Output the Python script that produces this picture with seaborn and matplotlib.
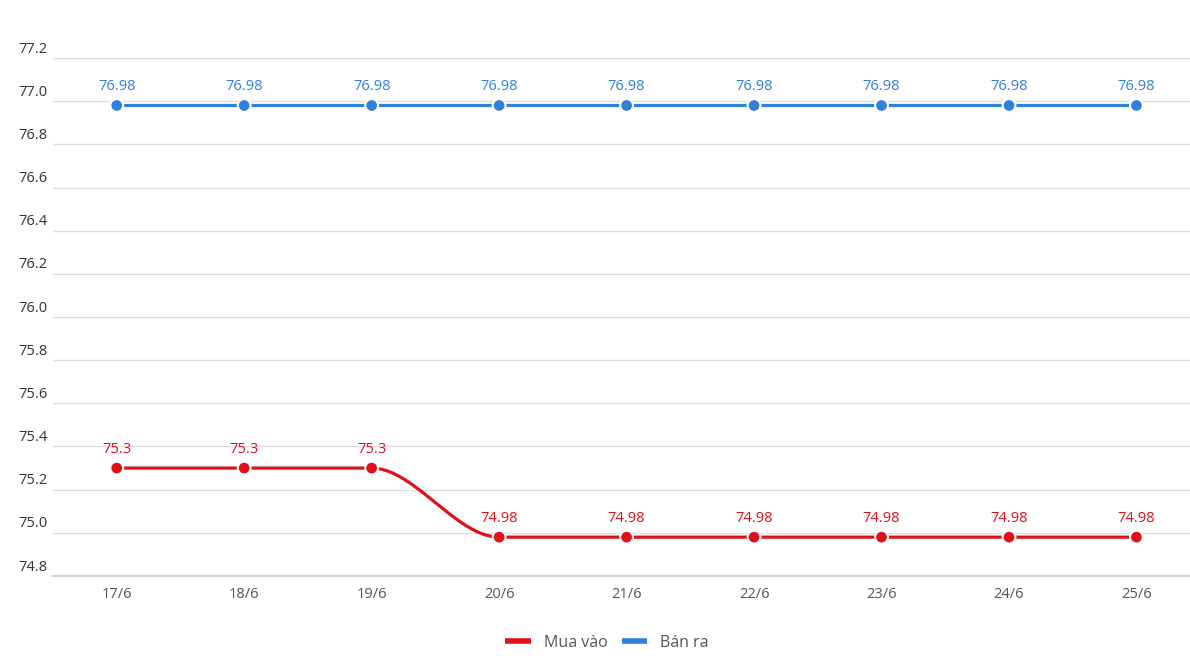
import matplotlib
matplotlib.use("Agg")
import matplotlib.pyplot as plt
import matplotlib.transforms as mtransforms
from matplotlib.lines import Line2D
import seaborn as sns
import pandas as pd
import numpy as np

# data
dates = ["17/6", "18/6", "19/6", "20/6", "21/6", "22/6", "23/6", "24/6", "25/6"]
mua_vao = [75.3, 75.3, 75.3, 74.98, 74.98, 74.98, 74.98, 74.98, 74.98]
ban_ra = [76.98, 76.98, 76.98, 76.98, 76.98, 76.98, 76.98, 76.98, 76.98]
y_ticks = [74.8, 75.0, 75.2, 75.4, 75.6, 75.8, 76.0, 76.2, 76.4, 76.6, 76.8, 77.0, 77.2]

RED = "#E0101A"
BLUE = "#2F7FDD"

df = pd.DataFrame({
    "idx": list(range(len(dates))) * 2,
    "value": mua_vao + ban_ra,
    "series": ["Mua vào"] * len(dates) + ["Bán ra"] * len(dates),
})


def smooth(xs, ys, n=40):
    # spline giống kiểu Highcharts: tiếp tuyến nằm ngang tại mỗi điểm
    out_x, out_y = [], []
    for i in range(len(xs) - 1):
        t = np.linspace(0, 1, n)
        s = t * t * (3 - 2 * t)
        out_x.extend(xs[i] + (xs[i + 1] - xs[i]) * t)
        out_y.extend(ys[i] + (ys[i + 1] - ys[i]) * s)
    return out_x, out_y


curves = []
for name, vals in [("Mua vào", mua_vao), ("Bán ra", ban_ra)]:
    cx, cy = smooth(list(range(len(dates))), vals)
    curves.append(pd.DataFrame({"idx": cx, "value": cy, "series": name}))
df_curve = pd.concat(curves, ignore_index=True)

sns.set_theme(style="white")
plt.rcParams["font.family"] = ["Open Sans", "DejaVu Sans"]

fig = plt.figure(figsize=(11.9, 6.68), dpi=100)
ax = fig.add_axes([53 / 1190, 1 - 576 / 668, 1 - 53 / 1190, (576 - 58) / 668])

palette = {"Mua vào": RED, "Bán ra": BLUE}
sns.lineplot(data=df_curve, x="idx", y="value", hue="series", palette=palette,
             linewidth=2.3, legend=False, ax=ax, sort=False, estimator=None, units="series")
sns.scatterplot(data=df, x="idx", y="value", hue="series", palette=palette,
                s=85, edgecolor="white", linewidth=1.5, legend=False, ax=ax, zorder=5)

# nhãn giá trị
for i, v in enumerate(ban_ra):
    ax.annotate(f"{v:g}", (i, v), xytext=(0, 8), textcoords="offset points",
                ha="center", va="bottom", color=BLUE, fontsize=10.5)
for i, v in enumerate(mua_vao):
    ax.annotate(f"{v:g}", (i, v), xytext=(0, 8), textcoords="offset points",
                ha="center", va="bottom", color=RED, fontsize=10.5)

ax.set_xlim(-0.5, 8.42)
ax.set_ylim(74.8, 77.2)
ax.set_yticks(y_ticks)
ax.set_yticklabels([])
ax.tick_params(axis="y", length=0)
ax.grid(axis="y", color="#dddddd", linewidth=1)
ax.set_axisbelow(True)
ax.set_xticks(range(len(dates)))
ax.set_xticklabels(dates, color="#555555", fontsize=10.5)
ax.tick_params(axis="x", length=0, pad=8)
ax.set_xlabel("")
ax.set_ylabel("")
for sp in ["top", "right", "left"]:
    ax.spines[sp].set_visible(False)
ax.spines["bottom"].set_color("#cccccc")

# nhãn trục y nằm trên đường lưới
trans = mtransforms.blended_transform_factory(fig.transFigure, ax.transData)
trans = trans + mtransforms.ScaledTranslation(0, 1 / 72, fig.dpi_scale_trans)
for t in y_ticks:
    ax.text(18 / 1190, t, f"{t:.1f}", transform=trans, ha="left", va="bottom",
            color="#333333", fontsize=10.5)

handles = [Line2D([0], [0], color=RED, linewidth=4, solid_capstyle="butt"),
           Line2D([0], [0], color=BLUE, linewidth=4, solid_capstyle="butt")]
fig.legend(handles, ["Mua vào", "Bán ra"], loc="center", bbox_to_anchor=(0.51, 1 - 643 / 668),
           ncol=2, frameon=False, fontsize=11.5, handlelength=1.6, columnspacing=0.9,
           handletextpad=0.8, labelcolor="#555555")

fig.savefig("out.png", dpi=100)
